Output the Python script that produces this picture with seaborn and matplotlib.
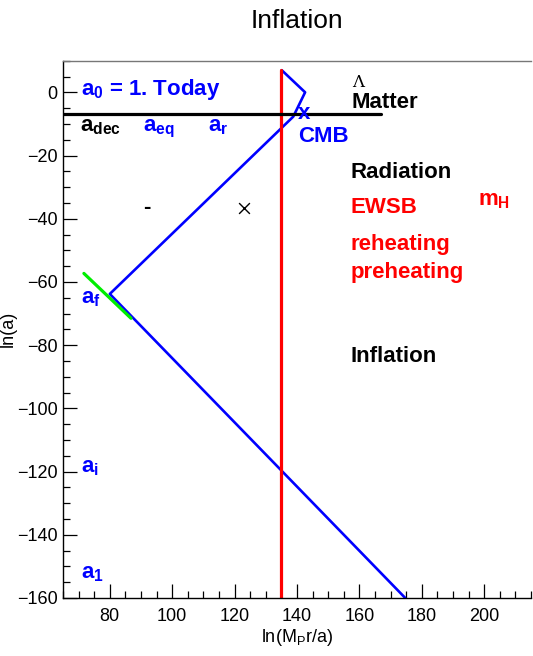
import matplotlib
matplotlib.use("Agg")
import matplotlib.pyplot as plt
import seaborn as sns
import pandas as pd
from matplotlib.ticker import MultipleLocator

# ---- data ----
hubble_x = [174.7, 80.0, 138.8, 142.6, 135.1]      # ln(M_P r/a)
hubble_y = [-160.0, -63.8, -7.7, 0.0, 7.0]         # ln(a)
preheat_x = [71.7, 86.8]
preheat_y = [-57.3, -71.5]
higgs_x = [135.0, 135.0]
higgs_y = [-160.0, 7.0]
dec_x = [65.0, 167.0]
dec_y = [-7.0, -7.0]
marker_x = [123.0]
marker_y = [-36.7]

labels = [
    # text, x, y, color
    (r"$\mathbf{a_{0}}$ = 1. Today", 70.7, -0.9, "blue"),
    ("Matter", 157.4, -4.9, "black"),
    (r"$\mathbf{a_{dec}}$", 70.5, -12.5, "black"),
    (r"$\mathbf{a_{eq}}$", 90.7, -12.5, "blue"),
    (r"$\mathbf{a_{r}}$", 111.4, -12.5, "blue"),
    ("CMB", 140.4, -15.6, "blue"),
    ("x", 140.2, -8.6, "blue"),
    ("Radiation", 157.2, -27.2, "black"),
    ("EWSB", 157.2, -38.3, "red"),
    (r"$\mathbf{m_{H}}$", 198.1, -35.7, "red"),
    ("reheating", 157.2, -49.9, "red"),
    ("preheating", 157.2, -58.8, "red"),
    ("Inflation", 157.2, -85.3, "black"),
    (r"$\mathbf{a_{f}}$", 70.7, -66.8, "blue"),
    (r"$\mathbf{a_{i}}$", 70.7, -120.2, "blue"),
    (r"$\mathbf{a_{1}}$", 70.7, -153.8, "blue"),
    ("-", 90.8, -38.2, "black"),
]

sns.set_style("white")
plt.rcParams["font.family"] = ["Liberation Sans", "DejaVu Sans"]
plt.rcParams["mathtext.fontset"] = "custom"
plt.rcParams["mathtext.rm"] = "Liberation Sans"
plt.rcParams["mathtext.bf"] = "Liberation Sans:bold"
plt.rcParams["mathtext.it"] = "Liberation Sans:italic"
plt.rcParams["text.color"] = "black"
plt.rcParams["axes.labelcolor"] = "black"
plt.rcParams["xtick.color"] = "black"
plt.rcParams["ytick.color"] = "black"

fig = plt.figure(figsize=(5.33, 6.56), dpi=100)
ax = fig.add_axes([63/533, 1 - 598/656, 468/533, (598 - 60.7)/656])

df_h = pd.DataFrame({"x": hubble_x, "y": hubble_y})
sns.lineplot(data=df_h, x="x", y="y", sort=False, estimator=None, color="blue", lw=1.9, ax=ax)
df_p = pd.DataFrame({"x": preheat_x, "y": preheat_y})
sns.lineplot(data=df_p, x="x", y="y", sort=False, estimator=None, color="#00ee00", lw=2.3, ax=ax)
df_r = pd.DataFrame({"x": higgs_x, "y": higgs_y})
sns.lineplot(data=df_r, x="x", y="y", sort=False, estimator=None, color="red", lw=2.3, ax=ax)
df_d = pd.DataFrame({"x": dec_x, "y": dec_y})
sns.lineplot(data=df_d, x="x", y="y", sort=False, estimator=None, color="black", lw=2.3, ax=ax)
sns.scatterplot(x=marker_x, y=marker_y, marker="x", s=60, color="black", linewidth=1.0, ax=ax)

for txt, x, y, c in labels:
    ax.text(x, y, txt, color=c, fontsize=16, fontweight="bold", ha="left", va="baseline")

ax.text(157.5, 1.8, "Λ", color="black", fontsize=12, family=["DejaVu Serif"], ha="left", va="baseline")

ax.set_xlim(65, 215)
ax.set_ylim(-160, 10)
ax.xaxis.set_major_locator(MultipleLocator(20))
ax.xaxis.set_minor_locator(MultipleLocator(5))
ax.yaxis.set_major_locator(MultipleLocator(20))
ax.yaxis.set_minor_locator(MultipleLocator(5))
ax.tick_params(which="both", bottom=True, left=True, top=False, right=False, direction="in")
ax.tick_params(which="major", length=10, width=0.9, labelsize=13)
ax.tick_params(which="minor", length=5, width=0.9)
ax.tick_params(axis="x", which="major", pad=7)
ax.tick_params(axis="y", which="major", pad=4)

ax.spines["right"].set_visible(False)
ax.spines["top"].set_color("#777777")
ax.spines["left"].set_color("black")
ax.spines["bottom"].set_color("black")
for s in ax.spines.values():
    s.set_linewidth(1.0)

ax.set_xlabel(r"ln(M$_{\mathrm{P}}$r/a)", fontsize=13, labelpad=2)
ax.set_ylabel("ln(a)", fontsize=13)
ax.yaxis.set_label_coords(-0.098, 0.5)
fig.text(297/533, 1 - 28/656, "Inflation", fontsize=19, ha="center", va="baseline")

fig.savefig("out.png", dpi=100)
